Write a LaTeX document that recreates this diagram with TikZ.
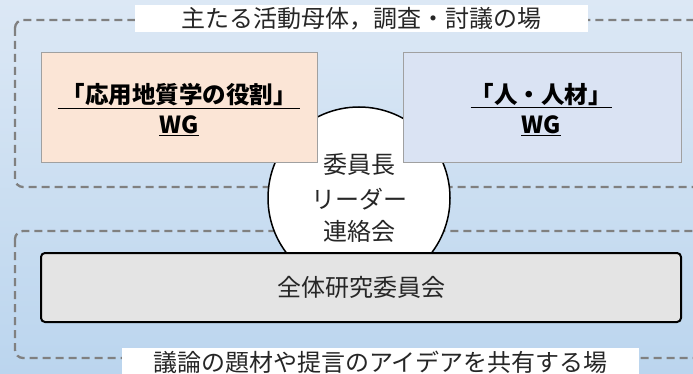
\documentclass[tikz,border=0pt]{standalone}
\usepackage{fontspec}
\setmainfont{Noto Sans CJK JP}
\definecolor{bgtop}{HTML}{DCE8F5}
\definecolor{bgbot}{HTML}{BBD5EE}
\definecolor{dashgray}{HTML}{808080}
\definecolor{wgorange}{HTML}{FBE5D6}
\definecolor{wgblue}{HTML}{DAE3F3}
\definecolor{boxgray}{HTML}{A0A0A0}
\definecolor{allgray}{HTML}{E4E4E4}
\definecolor{txt}{HTML}{262626}
\tikzset{
  areabox/.style={draw=dashgray, line width=2.3pt, dash pattern=on 8pt off 5pt, rounded corners=8pt},
  labelbox/.style={fill=white, inner sep=0pt, font=\fontsize{24}{28}\selectfont, text=txt},
  wgbox/.style={draw=boxgray, line width=1pt, inner sep=0pt},
  wgtext/.style={inner sep=0pt, font=\fontsize{23.5}{28}\selectfont\bfseries, text=black},
  hub/.style={circle, draw=black, line width=1.5pt, fill=white, minimum size=182pt, inner sep=0pt,
              align=center, font=\fontsize{24}{32}\selectfont, text=txt},
  allbox/.style={draw=black, line width=2pt, fill=allgray, rounded corners=4pt, inner sep=0pt,
                 font=\fontsize{24}{28}\selectfont, text=txt}
}
\begin{document}
\begin{tikzpicture}[x=1pt,y=-1pt]
\useasboundingbox (0,0) rectangle (693,374);
\shade[top color=bgtop, bottom color=bgbot] (0,0) rectangle (693,374);
\begin{scope}
\clip (0,0) rectangle (693,374);
% dashed areas
\draw[areabox] (15,20) rectangle (730,187);
\draw[areabox] (15,231) rectangle (730,358);
% area labels
\node[labelbox, minimum width=453pt, minimum height=27pt] (toplabel) at (361.5,18.5) {主たる活動母体，調査・討議の場};
\node[labelbox, minimum width=517pt, minimum height=28pt] (botlabel) at (380.5,362) {議論の題材や提言のアイデアを共有する場};
% hub circle
\node[hub] (hub) at (359,198) {\raisebox{3pt}{委員長}\\リーダー\\連絡会};
% WG boxes
\node[wgbox, fill=wgorange, minimum width=276pt, minimum height=110pt] (wgleft) at (179,108) {};
\node[wgbox, fill=wgblue, minimum width=278pt, minimum height=110pt] (wgright) at (542,108) {};
\node[wgtext] (wgleftt) at (179,96) {\underline{\,「応用地質学の役割」\,}};
\node[wgtext] (wgleftw) at (179,126) {\underline{WG}};
\node[wgtext] (wgrightt) at (541,96) {\underline{「人・人材」}};
\node[wgtext] (wgrightw) at (541,126) {\underline{WG}};
% whole committee
\node[allbox, minimum width=640pt, minimum height=69pt] (allcomm) at (361,287.5) {全体研究委員会};
\end{scope}
\end{tikzpicture}
\end{document}
